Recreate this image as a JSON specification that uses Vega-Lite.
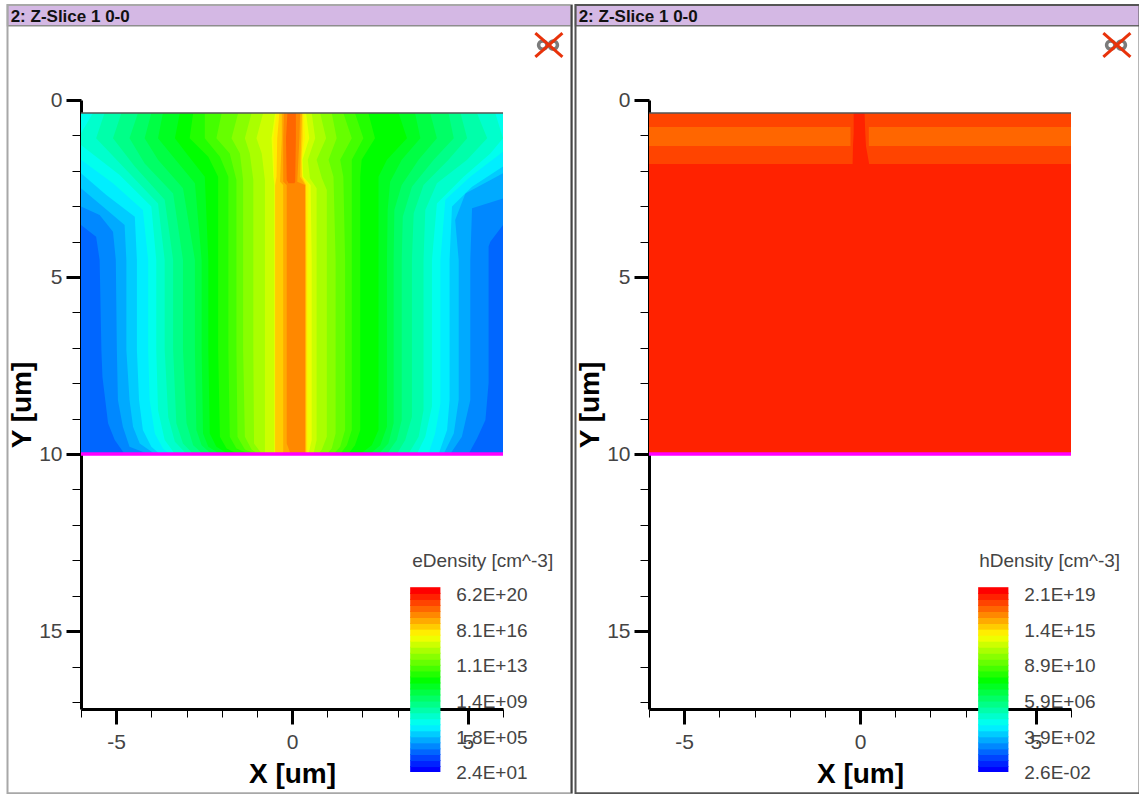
{"$schema":"https://vega.github.io/schema/vega-lite/v6.json","padding":{"left":6,"top":4,"right":0,"bottom":0},"background":"white","bounds":"flush","spacing":146,
"config":{"view":{"stroke":null},"font":"Liberation Sans"},
"datasets":{
"e":[
{"k":3,"s":"L","y":0.37,"x":-6},{"k":3,"s":"L","y":10,"x":-6},{"k":3,"s":"R","y":0.37,"x":6},{"k":3,"s":"R","y":10,"x":6},
{"k":4,"s":"L","y":0.37,"x":-6},{"k":4,"s":"L","y":3.53,"x":-6},{"k":4,"s":"L","y":3.86,"x":-5.57},{"k":4,"s":"L","y":4.52,"x":-5.47},{"k":4,"s":"L","y":7.06,"x":-5.42},{"k":4,"s":"L","y":7.82,"x":-5.39},{"k":4,"s":"L","y":9.13,"x":-5.23},{"k":4,"s":"L","y":9.6,"x":-5.04},{"k":4,"s":"L","y":10,"x":-4.76},
{"k":4,"s":"R","y":0.37,"x":6},{"k":4,"s":"R","y":3.53,"x":6},{"k":4,"s":"R","y":4.0,"x":5.64},{"k":4,"s":"R","y":4.14,"x":5.59},{"k":4,"s":"R","y":7.06,"x":5.59},{"k":4,"s":"R","y":8.0,"x":5.59},{"k":4,"s":"R","y":9.04,"x":5.5},{"k":4,"s":"R","y":9.56,"x":5.26},{"k":4,"s":"R","y":10,"x":5.02},
{"k":5,"s":"L","y":0.37,"x":-6},{"k":5,"s":"L","y":3.01,"x":-6},{"k":5,"s":"L","y":3.25,"x":-5.47},{"k":5,"s":"L","y":3.72,"x":-5.09},{"k":5,"s":"L","y":4.52,"x":-5.01},{"k":5,"s":"L","y":7.06,"x":-4.98},{"k":5,"s":"L","y":8.47,"x":-4.95},{"k":5,"s":"L","y":9.23,"x":-4.81},{"k":5,"s":"L","y":9.79,"x":-4.62},{"k":5,"s":"L","y":10,"x":-4.09},
{"k":5,"s":"R","y":0.37,"x":6},{"k":5,"s":"R","y":2.78,"x":6},{"k":5,"s":"R","y":3.06,"x":5.12},{"k":5,"s":"R","y":4.52,"x":5.07},{"k":5,"s":"R","y":7.06,"x":5.07},{"k":5,"s":"R","y":8.47,"x":5.07},{"k":5,"s":"R","y":9.51,"x":4.83},{"k":5,"s":"R","y":10,"x":4.5},
{"k":6,"s":"L","y":0.37,"x":-6},{"k":6,"s":"L","y":2.49,"x":-6},{"k":6,"s":"L","y":3.01,"x":-5.38},{"k":6,"s":"L","y":3.53,"x":-4.76},{"k":6,"s":"L","y":4.52,"x":-4.71},{"k":6,"s":"L","y":7.06,"x":-4.71},{"k":6,"s":"L","y":8.47,"x":-4.62},{"k":6,"s":"L","y":9.23,"x":-4.52},{"k":6,"s":"L","y":9.7,"x":-4.33},{"k":6,"s":"L","y":10,"x":-3.9},
{"k":6,"s":"R","y":0.37,"x":6},{"k":6,"s":"R","y":2.07,"x":6},{"k":6,"s":"R","y":2.64,"x":4.93},{"k":6,"s":"R","y":3.39,"x":4.64},{"k":6,"s":"R","y":4.52,"x":4.74},{"k":6,"s":"R","y":7.06,"x":4.74},{"k":6,"s":"R","y":8.47,"x":4.74},{"k":6,"s":"R","y":9.42,"x":4.6},{"k":6,"s":"R","y":10,"x":4.31},
{"k":7,"s":"L","y":0.37,"x":-6},{"k":7,"s":"L","y":2.07,"x":-6},{"k":7,"s":"L","y":2.68,"x":-5.28},{"k":7,"s":"L","y":3.3,"x":-4.47},{"k":7,"s":"L","y":4.52,"x":-4.41},{"k":7,"s":"L","y":7.06,"x":-4.41},{"k":7,"s":"L","y":8.47,"x":-4.35},{"k":7,"s":"L","y":9.32,"x":-4.24},{"k":7,"s":"L","y":9.79,"x":-4.0},{"k":7,"s":"L","y":10,"x":-3.76},
{"k":7,"s":"R","y":0.37,"x":6},{"k":7,"s":"R","y":1.88,"x":6},{"k":7,"s":"R","y":2.45,"x":5.12},{"k":7,"s":"R","y":3.01,"x":4.55},{"k":7,"s":"R","y":4.52,"x":4.48},{"k":7,"s":"R","y":7.06,"x":4.48},{"k":7,"s":"R","y":8.47,"x":4.48},{"k":7,"s":"R","y":9.32,"x":4.41},{"k":7,"s":"R","y":10,"x":4.17},
{"k":8,"s":"L","y":0.37,"x":-6},{"k":8,"s":"L","y":1.69,"x":-6},{"k":8,"s":"L","y":2.35,"x":-5.09},{"k":8,"s":"L","y":3.11,"x":-4.24},{"k":8,"s":"L","y":4.52,"x":-4.09},{"k":8,"s":"L","y":7.06,"x":-4.09},{"k":8,"s":"L","y":8.47,"x":-4.05},{"k":8,"s":"L","y":9.42,"x":-3.9},{"k":8,"s":"L","y":9.84,"x":-3.67},{"k":8,"s":"L","y":10,"x":-3.48},
{"k":8,"s":"R","y":0.37,"x":6},{"k":8,"s":"R","y":1.46,"x":6},{"k":8,"s":"R","y":2.17,"x":5.07},{"k":8,"s":"R","y":2.82,"x":4.36},{"k":8,"s":"R","y":4.52,"x":4.22},{"k":8,"s":"R","y":7.06,"x":4.22},{"k":8,"s":"R","y":8.57,"x":4.22},{"k":8,"s":"R","y":9.42,"x":4.07},{"k":8,"s":"R","y":10,"x":3.88},
{"k":9,"s":"L","y":0.37,"x":-5.66},{"k":9,"s":"L","y":0.94,"x":-6},{"k":9,"s":"L","y":1.27,"x":-6},{"k":9,"s":"L","y":2.12,"x":-4.9},{"k":9,"s":"L","y":3.01,"x":-4.0},{"k":9,"s":"L","y":4.52,"x":-3.86},{"k":9,"s":"L","y":7.06,"x":-3.86},{"k":9,"s":"L","y":8.76,"x":-3.81},{"k":9,"s":"L","y":9.6,"x":-3.62},{"k":9,"s":"L","y":10,"x":-3.33},
{"k":9,"s":"R","y":0.37,"x":5.78},{"k":9,"s":"R","y":1.08,"x":6},{"k":9,"s":"R","y":1.51,"x":5.64},{"k":9,"s":"R","y":2.17,"x":4.88},{"k":9,"s":"R","y":2.92,"x":4.12},{"k":9,"s":"R","y":4.52,"x":3.98},{"k":9,"s":"R","y":7.06,"x":3.98},{"k":9,"s":"R","y":8.66,"x":3.98},{"k":9,"s":"R","y":9.51,"x":3.79},{"k":9,"s":"R","y":10,"x":3.55},
{"k":10,"s":"L","y":0.37,"x":-5.33},{"k":10,"s":"L","y":1.08,"x":-5.57},{"k":10,"s":"L","y":1.93,"x":-4.76},{"k":10,"s":"L","y":2.92,"x":-3.81},{"k":10,"s":"L","y":4.52,"x":-3.62},{"k":10,"s":"L","y":7.06,"x":-3.62},{"k":10,"s":"L","y":8.95,"x":-3.52},{"k":10,"s":"L","y":9.65,"x":-3.33},{"k":10,"s":"L","y":10,"x":-3.0},
{"k":10,"s":"R","y":0.37,"x":5.26},{"k":10,"s":"R","y":1.08,"x":5.55},{"k":10,"s":"R","y":1.69,"x":4.98},{"k":10,"s":"R","y":2.35,"x":4.12},{"k":10,"s":"R","y":3.11,"x":3.79},{"k":10,"s":"R","y":4.52,"x":3.74},{"k":10,"s":"R","y":7.06,"x":3.74},{"k":10,"s":"R","y":8.76,"x":3.74},{"k":10,"s":"R","y":9.51,"x":3.6},{"k":10,"s":"R","y":10,"x":3.31},
{"k":11,"s":"L","y":0.37,"x":-4.85},{"k":11,"s":"L","y":1.08,"x":-5.09},{"k":11,"s":"L","y":1.88,"x":-4.47},{"k":11,"s":"L","y":2.82,"x":-3.62},{"k":11,"s":"L","y":4.52,"x":-3.38},{"k":11,"s":"L","y":7.06,"x":-3.38},{"k":11,"s":"L","y":9.13,"x":-3.29},{"k":11,"s":"L","y":9.7,"x":-3.1},{"k":11,"s":"L","y":10,"x":-2.81},
{"k":11,"s":"R","y":0.37,"x":4.79},{"k":11,"s":"R","y":1.08,"x":4.98},{"k":11,"s":"R","y":1.69,"x":4.45},{"k":11,"s":"R","y":2.4,"x":3.74},{"k":11,"s":"R","y":3.2,"x":3.46},{"k":11,"s":"R","y":4.52,"x":3.41},{"k":11,"s":"R","y":7.06,"x":3.41},{"k":11,"s":"R","y":8.95,"x":3.41},{"k":11,"s":"R","y":9.6,"x":3.22},{"k":11,"s":"R","y":10,"x":2.98},
{"k":12,"s":"L","y":0.37,"x":-4.38},{"k":12,"s":"L","y":1.08,"x":-4.62},{"k":12,"s":"L","y":1.79,"x":-4.19},{"k":12,"s":"L","y":2.64,"x":-3.38},{"k":12,"s":"L","y":4.52,"x":-3.1},{"k":12,"s":"L","y":7.06,"x":-3.1},{"k":12,"s":"L","y":9.13,"x":-3.0},{"k":12,"s":"L","y":9.75,"x":-2.81},{"k":12,"s":"L","y":10,"x":-2.53},
{"k":12,"s":"R","y":0.37,"x":4.45},{"k":12,"s":"R","y":1.08,"x":4.6},{"k":12,"s":"R","y":1.69,"x":4.03},{"k":12,"s":"R","y":2.45,"x":3.41},{"k":12,"s":"R","y":3.3,"x":3.15},{"k":12,"s":"R","y":4.52,"x":3.12},{"k":12,"s":"R","y":7.06,"x":3.12},{"k":12,"s":"R","y":9.04,"x":3.12},{"k":12,"s":"R","y":9.6,"x":2.98},{"k":12,"s":"R","y":10,"x":2.7},
{"k":13,"s":"L","y":0.37,"x":-4.0},{"k":13,"s":"L","y":1.08,"x":-4.19},{"k":13,"s":"L","y":1.69,"x":-3.81},{"k":13,"s":"L","y":2.49,"x":-3.1},{"k":13,"s":"L","y":4.52,"x":-2.76},{"k":13,"s":"L","y":7.06,"x":-2.76},{"k":13,"s":"L","y":9.32,"x":-2.72},{"k":13,"s":"L","y":9.75,"x":-2.57},{"k":13,"s":"L","y":10,"x":-2.29},
{"k":13,"s":"R","y":0.37,"x":3.93},{"k":13,"s":"R","y":1.08,"x":4.12},{"k":13,"s":"R","y":1.69,"x":3.6},{"k":13,"s":"R","y":2.4,"x":3.12},{"k":13,"s":"R","y":3.11,"x":2.91},{"k":13,"s":"R","y":4.52,"x":2.89},{"k":13,"s":"R","y":7.06,"x":2.89},{"k":13,"s":"R","y":9.13,"x":2.89},{"k":13,"s":"R","y":9.7,"x":2.74},{"k":13,"s":"R","y":10,"x":2.46},
{"k":14,"s":"L","y":0.37,"x":-3.67},{"k":14,"s":"L","y":1.08,"x":-3.81},{"k":14,"s":"L","y":1.6,"x":-3.38},{"k":14,"s":"L","y":2.35,"x":-2.76},{"k":14,"s":"L","y":4.52,"x":-2.57},{"k":14,"s":"L","y":7.06,"x":-2.57},{"k":14,"s":"L","y":9.42,"x":-2.53},{"k":14,"s":"L","y":9.79,"x":-2.38},{"k":14,"s":"L","y":10,"x":-2.05},
{"k":14,"s":"R","y":0.37,"x":3.5},{"k":14,"s":"R","y":1.08,"x":3.65},{"k":14,"s":"R","y":1.69,"x":3.12},{"k":14,"s":"R","y":2.31,"x":2.79},{"k":14,"s":"R","y":3.11,"x":2.72},{"k":14,"s":"R","y":4.52,"x":2.7},{"k":14,"s":"R","y":7.06,"x":2.7},{"k":14,"s":"R","y":9.23,"x":2.7},{"k":14,"s":"R","y":9.75,"x":2.51},{"k":14,"s":"R","y":10,"x":2.22},
{"k":15,"s":"L","y":0.37,"x":-3.19},{"k":15,"s":"L","y":1.08,"x":-3.33},{"k":15,"s":"L","y":1.51,"x":-3.0},{"k":15,"s":"L","y":2.17,"x":-2.48},{"k":15,"s":"L","y":4.52,"x":-2.38},{"k":15,"s":"L","y":7.06,"x":-2.38},{"k":15,"s":"L","y":9.42,"x":-2.34},{"k":15,"s":"L","y":9.79,"x":-2.15},{"k":15,"s":"L","y":10,"x":-1.81},
{"k":15,"s":"R","y":0.37,"x":3.03},{"k":15,"s":"R","y":1.08,"x":3.27},{"k":15,"s":"R","y":1.69,"x":2.7},{"k":15,"s":"R","y":2.17,"x":2.46},{"k":15,"s":"R","y":7.06,"x":2.46},{"k":15,"s":"R","y":9.32,"x":2.46},{"k":15,"s":"R","y":9.75,"x":2.27},{"k":15,"s":"R","y":10,"x":1.94},
{"k":16,"s":"L","y":0.37,"x":-2.81},{"k":16,"s":"L","y":1.08,"x":-2.91},{"k":16,"s":"L","y":1.6,"x":-2.38},{"k":16,"s":"L","y":2.17,"x":-2.1},{"k":16,"s":"L","y":7.06,"x":-2.1},{"k":16,"s":"L","y":9.51,"x":-2.05},{"k":16,"s":"L","y":9.84,"x":-1.86},{"k":16,"s":"L","y":10,"x":-1.53},
{"k":16,"s":"R","y":0.37,"x":2.17},{"k":16,"s":"R","y":1.08,"x":2.36},{"k":16,"s":"R","y":1.69,"x":1.98},{"k":16,"s":"R","y":2.17,"x":1.94},{"k":16,"s":"R","y":7.06,"x":1.94},{"k":16,"s":"R","y":9.32,"x":1.94},{"k":16,"s":"R","y":9.75,"x":1.79},{"k":16,"s":"R","y":10,"x":1.6},
{"k":17,"s":"L","y":0.37,"x":-2.48},{"k":17,"s":"L","y":1.08,"x":-2.48},{"k":17,"s":"L","y":1.6,"x":-2.05},{"k":17,"s":"L","y":2.17,"x":-1.81},{"k":17,"s":"L","y":7.06,"x":-1.81},{"k":17,"s":"L","y":9.51,"x":-1.77},{"k":17,"s":"L","y":9.84,"x":-1.58},{"k":17,"s":"L","y":10,"x":-1.2},
{"k":17,"s":"R","y":0.37,"x":1.79},{"k":17,"s":"R","y":1.08,"x":2.03},{"k":17,"s":"R","y":1.69,"x":1.7},{"k":17,"s":"R","y":2.17,"x":1.7},{"k":17,"s":"R","y":7.06,"x":1.7},{"k":17,"s":"R","y":9.32,"x":1.7},{"k":17,"s":"R","y":9.75,"x":1.56},{"k":17,"s":"R","y":10,"x":1.37},
{"k":18,"s":"L","y":0.37,"x":-2.0},{"k":18,"s":"L","y":1.08,"x":-2.15},{"k":18,"s":"L","y":1.51,"x":-1.77},{"k":18,"s":"L","y":2.26,"x":-1.58},{"k":18,"s":"L","y":7.06,"x":-1.58},{"k":18,"s":"L","y":9.51,"x":-1.55},{"k":18,"s":"L","y":9.87,"x":-1.34},{"k":18,"s":"L","y":10,"x":-1.01},
{"k":18,"s":"R","y":0.37,"x":1.46},{"k":18,"s":"R","y":1.08,"x":1.7},{"k":18,"s":"R","y":1.69,"x":1.37},{"k":18,"s":"R","y":2.17,"x":1.46},{"k":18,"s":"R","y":4.52,"x":1.51},{"k":18,"s":"R","y":7.06,"x":1.51},{"k":18,"s":"R","y":9.32,"x":1.51},{"k":18,"s":"R","y":9.79,"x":1.37},{"k":18,"s":"R","y":10,"x":1.18},
{"k":19,"s":"L","y":0.37,"x":-1.53},{"k":19,"s":"L","y":1.08,"x":-1.72},{"k":19,"s":"L","y":1.51,"x":-1.48},{"k":19,"s":"L","y":2.26,"x":-1.39},{"k":19,"s":"L","y":7.06,"x":-1.39},{"k":19,"s":"L","y":9.51,"x":-1.34},{"k":19,"s":"L","y":9.87,"x":-1.15},{"k":19,"s":"L","y":10,"x":-0.96},
{"k":19,"s":"R","y":0.37,"x":1.13},{"k":19,"s":"R","y":1.08,"x":1.27},{"k":19,"s":"R","y":1.69,"x":1.04},{"k":19,"s":"R","y":2.17,"x":1.18},{"k":19,"s":"R","y":4.52,"x":1.24},{"k":19,"s":"R","y":7.06,"x":1.24},{"k":19,"s":"R","y":9.42,"x":1.24},{"k":19,"s":"R","y":9.84,"x":1.13},{"k":19,"s":"R","y":10,"x":0.99},
{"k":20,"s":"L","y":0.37,"x":-1.15},{"k":20,"s":"L","y":1.08,"x":-1.34},{"k":20,"s":"L","y":1.51,"x":-1.2},{"k":20,"s":"L","y":2.26,"x":-1.1},{"k":20,"s":"L","y":7.06,"x":-1.1},{"k":20,"s":"L","y":9.7,"x":-1.08},{"k":20,"s":"L","y":10,"x":-0.86},
{"k":20,"s":"R","y":0.37,"x":0.8},{"k":20,"s":"R","y":1.08,"x":0.97},{"k":20,"s":"R","y":1.69,"x":0.7},{"k":20,"s":"R","y":2.21,"x":0.85},{"k":20,"s":"R","y":2.54,"x":0.99},{"k":20,"s":"R","y":7.06,"x":0.99},{"k":20,"s":"R","y":9.51,"x":0.99},{"k":20,"s":"R","y":9.87,"x":0.85},{"k":20,"s":"R","y":10,"x":0.75},
{"k":21,"s":"L","y":0.37,"x":-0.82},{"k":21,"s":"L","y":1.08,"x":-1.01},{"k":21,"s":"L","y":1.51,"x":-0.86},{"k":21,"s":"L","y":2.26,"x":-0.77},{"k":21,"s":"L","y":7.06,"x":-0.77},{"k":21,"s":"L","y":10,"x":-0.77},
{"k":21,"s":"R","y":0.37,"x":0.56},{"k":21,"s":"R","y":1.08,"x":0.66},{"k":21,"s":"R","y":1.69,"x":0.45},{"k":21,"s":"R","y":2.21,"x":0.51},{"k":21,"s":"R","y":2.49,"x":0.7},{"k":21,"s":"R","y":7.06,"x":0.7},{"k":21,"s":"R","y":9.6,"x":0.7},{"k":21,"s":"R","y":10,"x":0.61},
{"k":22,"s":"L","y":0.37,"x":-0.48},{"k":22,"s":"L","y":1.08,"x":-0.58},{"k":22,"s":"L","y":2.17,"x":-0.53},{"k":22,"s":"L","y":2.4,"x":-0.5},{"k":22,"s":"L","y":10,"x":-0.5},
{"k":22,"s":"R","y":0.37,"x":0.4},{"k":22,"s":"R","y":1.08,"x":0.49},{"k":22,"s":"R","y":1.69,"x":0.3},{"k":22,"s":"R","y":2.17,"x":0.32},{"k":22,"s":"R","y":2.4,"x":0.53},{"k":22,"s":"R","y":4.52,"x":0.56},{"k":22,"s":"R","y":9.6,"x":0.56},{"k":22,"s":"R","y":10,"x":0.47},
{"k":23,"s":"L","y":0.37,"x":-0.44},{"k":23,"s":"L","y":1.08,"x":-0.53},{"k":23,"s":"L","y":2.17,"x":-0.51},{"k":23,"s":"L","y":2.4,"x":-0.49},{"k":23,"s":"L","y":10,"x":-0.49},
{"k":23,"s":"R","y":0.37,"x":0.34},{"k":23,"s":"R","y":1.08,"x":0.37},{"k":23,"s":"R","y":1.69,"x":0.28},{"k":23,"s":"R","y":2.17,"x":0.3},{"k":23,"s":"R","y":2.4,"x":0.47},{"k":23,"s":"R","y":4.52,"x":0.44},{"k":23,"s":"R","y":9.87,"x":0.44},{"k":23,"s":"R","y":10,"x":0.42},
{"k":24,"s":"L","y":0.37,"x":-0.36},{"k":24,"s":"L","y":1.08,"x":-0.42},{"k":24,"s":"L","y":2.17,"x":-0.44},{"k":24,"s":"L","y":2.4,"x":-0.48},{"k":24,"s":"L","y":10,"x":-0.48},
{"k":24,"s":"R","y":0.37,"x":0.3},{"k":24,"s":"R","y":1.08,"x":0.3},{"k":24,"s":"R","y":1.69,"x":0.27},{"k":24,"s":"R","y":2.17,"x":0.28},{"k":24,"s":"R","y":2.4,"x":0.4},{"k":24,"s":"R","y":4.52,"x":0.41},{"k":24,"s":"R","y":10,"x":0.41},
{"k":25,"s":"L","y":0.37,"x":-0.29},{"k":25,"s":"L","y":1.08,"x":-0.29},{"k":25,"s":"L","y":2.31,"x":-0.34},{"k":25,"s":"L","y":2.4,"x":-0.25},{"k":25,"s":"L","y":10,"x":-0.25},
{"k":25,"s":"R","y":0.37,"x":0.28},{"k":25,"s":"R","y":1.08,"x":0.26},{"k":25,"s":"R","y":2.17,"x":0.23},{"k":25,"s":"R","y":2.4,"x":0.38},{"k":25,"s":"R","y":4.52,"x":0.39},{"k":25,"s":"R","y":10,"x":0.39},
{"k":26,"s":"L","y":0.37,"x":-0.23},{"k":26,"s":"L","y":1.08,"x":-0.25},{"k":26,"s":"L","y":2.31,"x":-0.25},{"k":26,"s":"L","y":2.4,"x":-0.15},{"k":26,"s":"L","y":9.7,"x":-0.15},{"k":26,"s":"L","y":10,"x":-0.04},
{"k":26,"s":"R","y":0.37,"x":0.23},{"k":26,"s":"R","y":1.08,"x":0.21},{"k":26,"s":"R","y":2.31,"x":0.15},{"k":26,"s":"R","y":2.4,"x":0.37},{"k":26,"s":"R","y":10,"x":0.37},
{"k":27,"s":"L","y":0.37,"x":-0.13},{"k":27,"s":"L","y":1.08,"x":-0.17},{"k":27,"s":"L","y":2.26,"x":-0.15},{"k":27,"s":"L","y":2.35,"x":-0.1},
{"k":27,"s":"R","y":0.37,"x":0.11},{"k":27,"s":"R","y":1.08,"x":0.11},{"k":27,"s":"R","y":2.31,"x":0.09},{"k":27,"s":"R","y":2.35,"x":0.07}
],
"h":[
{"k":29,"g":"a","y":0.37,"x":-6,"x2":6},{"k":29,"g":"a","y":10,"x":-6,"x2":6},
{"k":28,"g":"b","y":0.37,"x":-6,"x2":6},{"k":28,"g":"b","y":1.81,"x":-6,"x2":6},
{"k":27,"g":"c","y":0.76,"x":-6,"x2":6},{"k":27,"g":"c","y":1.3,"x":-6,"x2":6},
{"k":28,"g":"d","y":0.76,"x":-0.27,"x2":0.25},{"k":28,"g":"d","y":1.3,"x":-0.27,"x2":0.25},
{"k":29,"g":"e","y":0.37,"x":-0.18,"x2":0.13},{"k":29,"g":"e","y":0.95,"x":-0.18,"x2":0.15},{"k":29,"g":"e","y":1.3,"x":-0.2,"x2":0.17},{"k":29,"g":"e","y":1.81,"x":-0.21,"x2":0.26}
],
"bar":[{"k":0,"x":3.36,"x2":4.22,"y":18.98,"y2":18.81},{"k":1,"x":3.36,"x2":4.22,"y":18.84,"y2":18.64},{"k":2,"x":3.36,"x2":4.22,"y":18.67,"y2":18.47},{"k":3,"x":3.36,"x2":4.22,"y":18.5,"y2":18.31},{"k":4,"x":3.36,"x2":4.22,"y":18.34,"y2":18.14},{"k":5,"x":3.36,"x2":4.22,"y":18.17,"y2":17.97},{"k":6,"x":3.36,"x2":4.22,"y":18.0,"y2":17.8},{"k":7,"x":3.36,"x2":4.22,"y":17.83,"y2":17.63},{"k":8,"x":3.36,"x2":4.22,"y":17.66,"y2":17.46},{"k":9,"x":3.36,"x2":4.22,"y":17.49,"y2":17.29},{"k":10,"x":3.36,"x2":4.22,"y":17.32,"y2":17.13},{"k":11,"x":3.36,"x2":4.22,"y":17.16,"y2":16.96},{"k":12,"x":3.36,"x2":4.22,"y":16.99,"y2":16.79},{"k":13,"x":3.36,"x2":4.22,"y":16.82,"y2":16.62},{"k":14,"x":3.36,"x2":4.22,"y":16.65,"y2":16.45},{"k":15,"x":3.36,"x2":4.22,"y":16.48,"y2":16.28},{"k":16,"x":3.36,"x2":4.22,"y":16.31,"y2":16.11},{"k":17,"x":3.36,"x2":4.22,"y":16.14,"y2":15.95},{"k":18,"x":3.36,"x2":4.22,"y":15.98,"y2":15.78},{"k":19,"x":3.36,"x2":4.22,"y":15.81,"y2":15.61},{"k":20,"x":3.36,"x2":4.22,"y":15.64,"y2":15.44},{"k":21,"x":3.36,"x2":4.22,"y":15.47,"y2":15.27},{"k":22,"x":3.36,"x2":4.22,"y":15.3,"y2":15.1},{"k":23,"x":3.36,"x2":4.22,"y":15.13,"y2":14.93},{"k":24,"x":3.36,"x2":4.22,"y":14.96,"y2":14.77},{"k":25,"x":3.36,"x2":4.22,"y":14.8,"y2":14.6},{"k":26,"x":3.36,"x2":4.22,"y":14.63,"y2":14.43},{"k":27,"x":3.36,"x2":4.22,"y":14.46,"y2":14.26},{"k":28,"x":3.36,"x2":4.22,"y":14.29,"y2":14.09},{"k":29,"x":3.36,"x2":4.22,"y":14.12,"y2":13.92},{"k":30,"x":3.36,"x2":4.22,"y":13.95,"y2":13.76}],
"frame":[{"x":-8.09,"x2":7.95,"y":-2.68,"y2":19.58}],
"head":[{"x":-8.09,"x2":7.95,"y":-2.68,"y2":-2.1}],
"titleText":[{"x":-8.0,"y":-2.35,"t":"2: Z-Slice 1 0-0"}],
"edges":[{"x":-6,"x2":6,"y":0.37,"c":"#555555","w":1.5},{"x":-6,"x2":6,"y":10,"c":"#ff00ff","w":3.5}],
"rightEdge":[{"x":7.95,"y":-2.68,"y2":19.58}],
"xmark":[{"x":6.92,"x2":7.69,"y":-1.89,"y2":-1.22},{"x":6.92,"x2":7.69,"y":-1.22,"y2":-1.89}],
"rings":[{"x":7.13,"y":-1.55},{"x":7.43,"y":-1.55}],
"eLabels":[{"x":3.42,"y":13.02,"t":"eDensity [cm^-3]"},{"x":4.67,"y":13.98,"t":"6.2E+20"},{"x":4.67,"y":14.99,"t":"8.1E+16"},{"x":4.67,"y":15.99,"t":"1.1E+13"},{"x":4.67,"y":17.0,"t":"1.4E+09"},{"x":4.67,"y":18.02,"t":"1.8E+05"},{"x":4.67,"y":19.0,"t":"2.4E+01"}],
"hLabels":[{"x":3.39,"y":13.02,"t":"hDensity [cm^-3]"},{"x":4.67,"y":13.98,"t":"2.1E+19"},{"x":4.67,"y":14.99,"t":"1.4E+15"},{"x":4.67,"y":15.99,"t":"8.9E+10"},{"x":4.67,"y":17.0,"t":"5.9E+06"},{"x":4.67,"y":18.02,"t":"3.9E+02"},{"x":4.67,"y":19.0,"t":"2.6E-02"}]
},
"hconcat":[
{"width":422,"height":609,"encoding":{
"x":{"field":"x","type":"quantitative","stack":null,"scale":{"domain":[-6,6],"nice":false,"zero":false},"axis":{"title":"X [um]","values":[-6,-5,-4,-3,-2,-1,0,1,2,3,4,5,6],"labelExpr":"datum.value % 5 == 0 ? ''+datum.value : ''","grid":false,"domainColor":"black","domainWidth":3,"tickColor":"black","tickSize":{"condition":{"test":"datum.value % 5 == 0","value":15},"value":8},"tickWidth":{"condition":{"test":"datum.value % 5 == 0","value":3},"value":1},"labelFont":"Liberation Sans","labelFontSize":21,"labelColor":"#444444","labelPadding":7,"labelFlush":false,"labelOverlap":false,"titleFont":"Liberation Sans","titleFontSize":28,"titleFontWeight":"bold","titleColor":"black","titlePadding":8}},
"y":{"field":"y","type":"quantitative","scale":{"domain":[0,17.2],"nice":false,"zero":false,"reverse":true},"axis":{"title":"Y [um]","values":[0,1,2,3,4,5,6,7,8,9,10,11,12,13,14,15,16,17],"labelExpr":"datum.value % 5 == 0 ? ''+datum.value : ''","grid":false,"domainColor":"black","domainWidth":3,"tickColor":"black","tickSize":{"condition":{"test":"datum.value % 5 == 0","value":15},"value":9},"tickWidth":{"condition":{"test":"datum.value % 5 == 0","value":3},"value":1},"labelFont":"Liberation Sans","labelFontSize":21,"labelColor":"#444444","labelPadding":4,"labelFlush":false,"labelOverlap":false,"titleFont":"Liberation Sans","titleFontSize":28,"titleFontWeight":"bold","titleColor":"black","titlePadding":2}}},
"layer":[
{"data":{"name":"e"},"mark":{"type":"area","orient":"horizontal","interpolate":"linear","clip":false},"encoding":{"x2":{"datum":0},"detail":{"field":"s"},"color":{"field":"k","type":"ordinal","legend":null,"scale":{"domain":[0,1,2,3,4,5,6,7,8,9,10,11,12,13,14,15,16,17,18,19,20,21,22,23,24,25,26,27,28,29,30],"range":["#0000ff","#0022ff","#0044ff","#0066ff","#0088ff","#00aaff","#00ccff","#00eeff","#00ffee","#00ffcc","#00ffaa","#00ff88","#00ff66","#00ff44","#00ff22","#00ff00","#22ff00","#44ff00","#66ff00","#88ff00","#aaff00","#ccff00","#eeff00","#ffee00","#ffcc00","#ffaa00","#ff8800","#ff6600","#ff4400","#ff2200","#ff0000"]}}}},
{"data":{"name":"edges"},"mark":{"type":"rule","clip":false},"encoding":{"x2":{"field":"x2"},"y":{"field":"y","type":"quantitative"},"color":{"field":"c","type":"nominal","scale":null},"strokeWidth":{"field":"w","type":"quantitative","scale":null}}},
{"data":{"name":"bar"},"mark":{"type":"rect","clip":false},"encoding":{"x2":{"field":"x2"},"y":{"field":"y","type":"quantitative"},"y2":{"field":"y2"},"color":{"field":"k","type":"ordinal","legend":null}}},
{"data":{"name":"head"},"mark":{"type":"rect","clip":false,"fill":"#d4b8e4","stroke":"#8e8e8e","strokeWidth":1.5},"encoding":{"x":{"field":"x","type":"quantitative"},"x2":{"field":"x2"},"y":{"field":"y","type":"quantitative"},"y2":{"field":"y2"}}},
{"data":{"name":"frame"},"mark":{"type":"rect","clip":false,"filled":false,"stroke":"#a8a8a8","strokeWidth":2},"encoding":{"x":{"field":"x","type":"quantitative"},"x2":{"field":"x2"},"y":{"field":"y","type":"quantitative"},"y2":{"field":"y2"}}},
{"data":{"name":"rightEdge"},"mark":{"type":"rule","clip":false,"stroke":"#444444","strokeWidth":2},"encoding":{"y":{"field":"y","type":"quantitative"},"y2":{"field":"y2"}}},
{"data":{"name":"titleText"},"mark":{"type":"text","align":"left","baseline":"middle","fontSize":17,"fontWeight":"bold","font":"Liberation Sans","color":"#111111"},"encoding":{"x":{"field":"x","type":"quantitative"},"y":{"field":"y","type":"quantitative"},"text":{"field":"t"}}},
{"data":{"name":"eLabels"},"mark":{"type":"text","align":"left","baseline":"middle","fontSize":19,"font":"Liberation Sans","color":"#444444"},"encoding":{"x":{"field":"x","type":"quantitative"},"y":{"field":"y","type":"quantitative"},"text":{"field":"t"}}},
{"data":{"name":"rings"},"mark":{"type":"point","filled":false,"stroke":"#444444","strokeWidth":3.5,"size":70,"clip":false},"encoding":{"x":{"field":"x","type":"quantitative"},"y":{"field":"y","type":"quantitative"}}},
{"data":{"name":"xmark"},"mark":{"type":"rule","stroke":"#e8320a","strokeWidth":3,"clip":false},"encoding":{"x":{"field":"x","type":"quantitative"},"x2":{"field":"x2"},"y":{"field":"y","type":"quantitative"},"y2":{"field":"y2"}}}
]},
{"width":422,"height":609,"encoding":{
"x":{"field":"x","type":"quantitative","stack":null,"scale":{"domain":[-6,6],"nice":false,"zero":false},"axis":{"title":"X [um]","values":[-6,-5,-4,-3,-2,-1,0,1,2,3,4,5,6],"labelExpr":"datum.value % 5 == 0 ? ''+datum.value : ''","grid":false,"domainColor":"black","domainWidth":3,"tickColor":"black","tickSize":{"condition":{"test":"datum.value % 5 == 0","value":15},"value":8},"tickWidth":{"condition":{"test":"datum.value % 5 == 0","value":3},"value":1},"labelFont":"Liberation Sans","labelFontSize":21,"labelColor":"#444444","labelPadding":7,"labelFlush":false,"labelOverlap":false,"titleFont":"Liberation Sans","titleFontSize":28,"titleFontWeight":"bold","titleColor":"black","titlePadding":8}},
"y":{"field":"y","type":"quantitative","scale":{"domain":[0,17.2],"nice":false,"zero":false,"reverse":true},"axis":{"title":"Y [um]","values":[0,1,2,3,4,5,6,7,8,9,10,11,12,13,14,15,16,17],"labelExpr":"datum.value % 5 == 0 ? ''+datum.value : ''","grid":false,"domainColor":"black","domainWidth":3,"tickColor":"black","tickSize":{"condition":{"test":"datum.value % 5 == 0","value":15},"value":9},"tickWidth":{"condition":{"test":"datum.value % 5 == 0","value":3},"value":1},"labelFont":"Liberation Sans","labelFontSize":21,"labelColor":"#444444","labelPadding":4,"labelFlush":false,"labelOverlap":false,"titleFont":"Liberation Sans","titleFontSize":28,"titleFontWeight":"bold","titleColor":"black","titlePadding":2}}},
"layer":[
{"data":{"name":"h"},"mark":{"type":"area","orient":"horizontal","interpolate":"linear","clip":false},"encoding":{"x2":{"field":"x2"},"detail":{"field":"g"},"color":{"field":"k","type":"ordinal","legend":null}}},
{"data":{"name":"edges"},"mark":{"type":"rule","clip":false},"encoding":{"x2":{"field":"x2"},"y":{"field":"y","type":"quantitative"},"color":{"field":"c","type":"nominal","scale":null},"strokeWidth":{"field":"w","type":"quantitative","scale":null}}},
{"data":{"name":"bar"},"mark":{"type":"rect","clip":false},"encoding":{"x2":{"field":"x2"},"y":{"field":"y","type":"quantitative"},"y2":{"field":"y2"},"color":{"field":"k","type":"ordinal","legend":null}}},
{"data":{"name":"head"},"mark":{"type":"rect","clip":false,"fill":"#d4b8e4","stroke":"#666666","strokeWidth":1.5},"encoding":{"x":{"field":"x","type":"quantitative"},"x2":{"field":"x2"},"y":{"field":"y","type":"quantitative"},"y2":{"field":"y2"}}},
{"data":{"name":"frame"},"mark":{"type":"rect","clip":false,"filled":false,"stroke":"#555555","strokeWidth":2},"encoding":{"x":{"field":"x","type":"quantitative"},"x2":{"field":"x2"},"y":{"field":"y","type":"quantitative"},"y2":{"field":"y2"}}},
{"data":{"name":"titleText"},"mark":{"type":"text","align":"left","baseline":"middle","fontSize":17,"fontWeight":"bold","font":"Liberation Sans","color":"#111111"},"encoding":{"x":{"field":"x","type":"quantitative"},"y":{"field":"y","type":"quantitative"},"text":{"field":"t"}}},
{"data":{"name":"hLabels"},"mark":{"type":"text","align":"left","baseline":"middle","fontSize":19,"font":"Liberation Sans","color":"#444444"},"encoding":{"x":{"field":"x","type":"quantitative"},"y":{"field":"y","type":"quantitative"},"text":{"field":"t"}}},
{"data":{"name":"rings"},"mark":{"type":"point","filled":false,"stroke":"#444444","strokeWidth":3.5,"size":70,"clip":false},"encoding":{"x":{"field":"x","type":"quantitative"},"y":{"field":"y","type":"quantitative"}}},
{"data":{"name":"xmark"},"mark":{"type":"rule","stroke":"#e8320a","strokeWidth":3,"clip":false},"encoding":{"x":{"field":"x","type":"quantitative"},"x2":{"field":"x2"},"y":{"field":"y","type":"quantitative"},"y2":{"field":"y2"}}}
]}
]}
